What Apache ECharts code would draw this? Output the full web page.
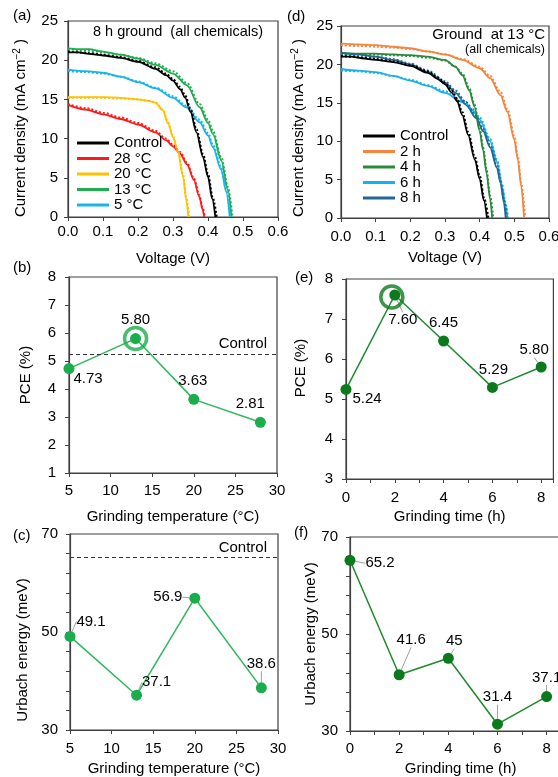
<!DOCTYPE html>
<html><head><meta charset="utf-8">
<script src="https://cdn.jsdelivr.net/npm/echarts@6/dist/echarts.min.js"></script>
<style>html,body{margin:0;padding:0;background:#fff}#c{width:558px;height:777px}</style>
</head><body><div id="c"></div>
<script>
// ---------- DATA ----------
// Panel (a): J-V curves, [voltage V, current density mA cm-2]
const ctrlSolid  = [[0,21.0],[0.03,21.0],[0.06,20.8],[0.1,20.6],[0.15,20.3],[0.2,19.8],[0.25,18.9],[0.28,18.1],[0.3,17.4],[0.32,16.3],[0.335,15.2],[0.35,13.4],[0.367,10.8],[0.386,7.6],[0.4,5.1],[0.412,2.3],[0.421,0]];
const ctrlDotted = [[0,21.1],[0.03,21.0],[0.06,20.9],[0.1,20.7],[0.15,20.4],[0.2,19.9],[0.25,19.1],[0.28,18.3],[0.3,17.6],[0.32,16.6],[0.335,15.5],[0.35,13.8],[0.367,11.2],[0.386,8.0],[0.4,5.5],[0.414,2.4],[0.425,0]];
const t28Solid   = [[0,14.3],[0.05,13.7],[0.1,13.1],[0.15,12.5],[0.2,11.8],[0.25,10.8],[0.28,9.8],[0.3,9.0],[0.32,8.1],[0.34,6.7],[0.36,4.7],[0.375,2.6],[0.385,0.9],[0.389,0]];
const t28Dotted  = [[0,14.4],[0.05,13.9],[0.1,13.3],[0.15,12.7],[0.2,12.0],[0.25,11.0],[0.28,10.0],[0.3,9.2],[0.32,8.3],[0.34,6.9],[0.36,4.9],[0.375,2.8],[0.385,1.1],[0.391,0]];
const t20Solid   = [[0,15.3],[0.05,15.3],[0.1,15.3],[0.15,15.2],[0.2,15.0],[0.23,14.8],[0.25,14.6],[0.271,13.6],[0.286,11.9],[0.3,10.2],[0.314,8.3],[0.329,5.1],[0.338,2.1],[0.344,0]];
const t20Dotted  = [[0,15.2],[0.05,15.2],[0.1,15.2],[0.15,15.1],[0.2,15.0],[0.23,14.8],[0.25,14.6],[0.271,13.7],[0.286,12.1],[0.3,10.4],[0.314,8.5],[0.329,5.4],[0.338,2.4],[0.346,0]];
const t13Solid   = [[0,21.5],[0.03,21.4],[0.06,21.4],[0.1,21.1],[0.15,20.7],[0.2,20.2],[0.25,19.4],[0.3,18.3],[0.34,16.8],[0.376,14.0],[0.4,12.0],[0.414,10.6],[0.438,7.2],[0.457,3.4],[0.467,0]];
const t13Dotted  = [[0,21.4],[0.03,21.3],[0.06,21.2],[0.1,21.0],[0.15,20.7],[0.2,20.3],[0.25,19.6],[0.3,18.6],[0.34,17.1],[0.376,14.4],[0.4,12.4],[0.414,11.0],[0.438,7.6],[0.457,3.8],[0.47,0]];
const t5Solid    = [[0,18.8],[0.05,18.6],[0.1,18.4],[0.15,17.9],[0.2,17.2],[0.25,16.4],[0.3,15.2],[0.338,14.0],[0.376,12.1],[0.4,10.4],[0.414,8.9],[0.438,6.0],[0.452,3.2],[0.462,0]];
const t5Dotted   = [[0,18.6],[0.05,18.5],[0.1,18.3],[0.15,17.9],[0.2,17.3],[0.25,16.5],[0.3,15.4],[0.338,14.2],[0.376,12.4],[0.4,10.7],[0.414,9.2],[0.438,6.3],[0.452,3.5],[0.465,0]];
// Panel (d): J-V curves for grinding time at 13 C
const h2Solid  = [[0,22.7],[0.05,22.6],[0.1,22.5],[0.15,22.3],[0.2,22.1],[0.25,21.7],[0.3,21.3],[0.35,20.6],[0.4,19.5],[0.43,18.2],[0.46,16.0],[0.48,13.8],[0.5,10.2],[0.51,7.6],[0.52,4.1],[0.528,0]];
const h2Dotted = [[0,22.5],[0.05,22.4],[0.1,22.3],[0.15,22.2],[0.2,22.0],[0.25,21.7],[0.3,21.3],[0.35,20.7],[0.4,19.7],[0.43,18.5],[0.46,16.4],[0.48,14.2],[0.5,10.7],[0.51,8.0],[0.52,4.5],[0.531,0]];
const h4Solid  = [[0,21.5],[0.05,21.4],[0.1,21.4],[0.15,21.3],[0.2,21.2],[0.25,21.0],[0.3,20.6],[0.33,19.7],[0.35,18.6],[0.37,16.6],[0.385,14.5],[0.4,11.3],[0.41,8.8],[0.42,5.8],[0.43,2.5],[0.436,0]];
const h4Dotted = [[0,21.3],[0.05,21.3],[0.1,21.3],[0.15,21.2],[0.2,21.1],[0.25,20.9],[0.3,20.5],[0.33,19.7],[0.35,18.8],[0.37,16.9],[0.385,14.8],[0.4,11.7],[0.41,9.2],[0.42,6.2],[0.43,2.9],[0.439,0]];
const h6Solid  = [[0,19.4],[0.05,19.2],[0.1,19.0],[0.15,18.5],[0.2,17.9],[0.25,17.2],[0.3,16.3],[0.35,15.1],[0.38,14.0],[0.4,12.8],[0.43,10.0],[0.45,7.3],[0.465,4.0],[0.475,1.5],[0.48,0]];
const h6Dotted = [[0,19.2],[0.05,19.1],[0.1,18.9],[0.15,18.5],[0.2,18.0],[0.25,17.3],[0.3,16.5],[0.35,15.3],[0.38,14.2],[0.4,13.1],[0.43,10.3],[0.45,7.6],[0.465,4.3],[0.475,1.8],[0.482,0]];
const h8Solid  = [[0,21.5],[0.05,21.3],[0.1,21.0],[0.15,20.6],[0.2,20.0],[0.25,19.0],[0.3,17.6],[0.33,16.3],[0.36,14.8],[0.39,13.0],[0.41,11.3],[0.43,9.2],[0.45,6.5],[0.46,4.6],[0.47,2.0],[0.475,0]];
const h8Dotted = [[0,21.3],[0.05,21.2],[0.1,21.0],[0.15,20.7],[0.2,20.1],[0.25,19.2],[0.3,17.8],[0.33,16.6],[0.36,15.1],[0.39,13.3],[0.41,11.6],[0.43,9.5],[0.45,6.8],[0.46,4.9],[0.47,2.3],[0.478,0]];
// Panels (b),(c): grinding temperature
const tempC      = [5, 13, 20, 28];
const pceTemp    = [4.73, 5.80, 3.63, 2.81];
const urbachTemp = [49.1, 37.1, 56.9, 38.6];
// Panels (e),(f): grinding time
const timeH      = [0, 2, 4, 6, 8];
const pceTime    = [5.24, 7.60, 6.45, 5.29, 5.80];
const urbachTime = [65.2, 41.6, 45, 31.4, 37.1];
const controlPCE = 5.24;
const controlUrbach = 65.2;
const bestTempIdx = 1, bestTimeIdx = 1;

// ---------- STYLE ----------
const FONT = '"Liberation Sans", Arial, Helvetica, sans-serif';
const FS = 15;
const AX = '#404040';
const GREEN = '#1aad4c', GREEN_L = '#2fb75a';
const DKGREEN = '#0b7a1c', DKGREEN_L = '#1f8a2c';
const C = {ctrl:'#000000', t28:'#ff1a1a', t20:'#ffc000', t13:'#1fae4f', t5:'#1ab4ec',
           h2:'#f5843e', h4:'#2a8a3a', h6:'#17b0ea', h8:'#22678f'};
const offB = [[19,10],[0,-19],[-1,-19],[-10,-18]];
const offE = [[21,9],[8,25],[0,-18],[1,-18],[-7,-17]];
const offC = [[21,-15],[20,-13],[-27,-1],[0,-24]];
const offF = [[30,3],[12,-35],[6,-17],[0,-27],[0,-19]];
const leadE = [false,true,false,false,true];

const grids = [
  {left:68,  top:21,  width:210,   height:196}, // a
  {left:341, top:26,  width:208,   height:192}, // d
  {left:69,  top:277, width:208,   height:196}, // b
  {left:346, top:279, width:207.4, height:200}, // e
  {left:70,  top:534, width:208,   height:196}, // c
  {left:350, top:537, width:221.2, height:194}  // f
].map(g => Object.assign({show:true, borderColor:AX, borderWidth:1.2, backgroundColor:'transparent', containLabel:false, outerBoundsMode:'none'}, g));

function axis(gi, o) {
  return {
    type:'value', gridIndex:gi, min:o.min, max:o.max, interval:o.interval,
    name:o.name, nameLocation:'middle', nameGap:o.nameGap, nameMoveOverlap:false,
    nameTextStyle:Object.assign({fontSize:FS, color:'#000', fontFamily:FONT}, o.nts||{}),
    axisLine:{show:true, onZero:false, lineStyle:{color:AX, width:1.2}},
    axisTick:{show:true, length:4, inside:false, lineStyle:{color:AX, width:1}},
    minorTick:{show:!!o.minor, splitNumber:o.minor||5, length:4, lineStyle:{color:AX, width:1}},
    splitLine:{show:false}, minorSplitLine:{show:false},
    axisLabel:{fontSize:FS, color:'#000', fontFamily:FONT, margin:o.margin, formatter:o.fmt, hideOverlap:false}
  };
}
const f1 = v => v.toFixed(1);
const even = v => (Math.abs(v % 2) < 1e-9 ? String(v) : '');
const xAxes = [
  axis(0,{min:0,max:0.6,interval:0.1,fmt:f1,name:'Voltage (V)',nameGap:34,margin:7}),
  axis(1,{min:0,max:0.6,interval:0.1,fmt:f1,name:'Voltage (V)',nameGap:32,margin:11}),
  axis(2,{min:5,max:30,interval:5,name:'Grinding temperature (°C)',nameGap:36,margin:10}),
  axis(3,{min:0,max:8.5,interval:2,minor:2,fmt:even,name:'Grinding time (h)',nameGap:30,margin:11}),
  axis(4,{min:5,max:30,interval:5,name:'Grinding temperature (°C)',nameGap:31,margin:11}),
  axis(5,{min:0,max:9,interval:2,minor:2,fmt:even,name:'Grinding time (h)',nameGap:30,margin:10})
];
const jName = 'Current density (mA cm{sup|−2} )';
const jRich = {rich:{sup:{fontSize:10, verticalAlign:'top', lineHeight:17, fontFamily:FONT, color:'#000'}}, lineHeight:17};
const yAxes = [
  axis(0,{min:0,max:25,interval:5,name:jName,nameGap:39,margin:10,nts:Object.assign({padding:[0,18,0,0]},jRich)}),
  axis(1,{min:0,max:25,interval:5,name:jName,nameGap:34,margin:8,nts:Object.assign({padding:[0,12,0,0]},jRich)}),
  axis(2,{min:1,max:8,interval:1,name:'PCE (%)',nameGap:36,margin:13}),
  axis(3,{min:3,max:8,interval:1,name:'PCE (%)',nameGap:38,margin:13,nts:{padding:[0,0,0,22]}}),
  axis(4,{min:30,max:70,interval:20,minor:5,name:'Urbach energy (meV)',nameGap:40,margin:12,nts:{padding:[0,36,0,0]}}),
  axis(5,{min:30,max:70,interval:20,minor:5,name:'Urbach energy (meV)',nameGap:32,margin:12})
];

function jv(name, data, color, gi, dotted) {
  return {type:'line', name, xAxisIndex:gi, yAxisIndex:gi, data, symbol:'none', showSymbol:false,
    smooth:0.3, smoothMonotone:'x', silent:true,
    lineStyle:{color, width:dotted?2:1.8, type:dotted?[2,2]:'solid'}, itemStyle:{color}, z:dotted?3:2};
}
function pts(gi, xs, ys, fmt, offs, leads, dot, lineCol, best, ringOff) {
  const s = [{
    type:'line', name:'pts'+gi, xAxisIndex:gi, yAxisIndex:gi, silent:true,
    data: xs.map((x,i) => ({value:[x, ys[i]], labelLine:{show:!!(leads && leads[i])}})),
    symbol:'circle', symbolSize:11, showSymbol:true,
    lineStyle:{color:lineCol, width:1.5}, itemStyle:{color:dot},
    label:{show:true, position:'inside', formatter:p => fmt(ys[p.dataIndex]), fontSize:FS, color:'#000', fontFamily:FONT, textBorderWidth:0},
    labelLayout: p => ({dx:offs[p.dataIndex][0], dy:offs[p.dataIndex][1]}),
    labelLine:{show:false, lineStyle:{color:'#a0a0a0', width:1}, length2:0},
    z:4
  }];
  if (best != null) s.push({
    type:'scatter', name:'ring'+gi, xAxisIndex:gi, yAxisIndex:gi, silent:true,
    data:[[xs[best], ys[best]]], symbol:'circle', symbolSize:22, symbolOffset:ringOff||[0,0],
    itemStyle:{color:'rgba(0,0,0,0)', borderColor:dot, borderWidth:3.5}, z:5
  });
  return s;
}
function ctrlLine(gi, v) {
  return {type:'line', name:'ctrl'+gi, xAxisIndex:gi, yAxisIndex:gi, data:[], silent:true,
    markLine:{silent:true, symbol:'none', animation:false, label:{show:false},
      lineStyle:{type:[4,3], color:'#333', width:1.2}, data:[{yAxis:v}]}};
}

const series = [
  jv('28 °C', t28Solid, C.t28, 0), jv('28r', t28Dotted, C.t28, 0, true),
  jv('20 °C', t20Solid, C.t20, 0), jv('20r', t20Dotted, C.t20, 0, true),
  jv('5 °C', t5Solid, C.t5, 0),    jv('5r', t5Dotted, C.t5, 0, true),
  jv('13 °C', t13Solid, C.t13, 0), jv('13r', t13Dotted, C.t13, 0, true),
  jv('Control', ctrlSolid, C.ctrl, 0), jv('ctrlr', ctrlDotted, C.ctrl, 0, true),
  jv('2 h', h2Solid, C.h2, 1), jv('2r', h2Dotted, C.h2, 1, true),
  jv('6 h', h6Solid, C.h6, 1), jv('6r', h6Dotted, C.h6, 1, true),
  jv('4 h', h4Solid, C.h4, 1), jv('4r', h4Dotted, C.h4, 1, true),
  jv('8 h', h8Solid, C.h8, 1), jv('8r', h8Dotted, C.h8, 1, true),
  jv('Control', ctrlSolid, C.ctrl, 1), jv('ctrlr2', ctrlDotted, C.ctrl, 1, true),
  ctrlLine(2, controlPCE), ctrlLine(4, controlUrbach),
  ...pts(2, tempC, pceTemp, v => v.toFixed(2), offB, null, GREEN, GREEN_L, bestTempIdx),
  ...pts(3, timeH, pceTime, v => v.toFixed(2), offE, leadE, DKGREEN, DKGREEN_L, bestTimeIdx, [-3,2]),
  ...pts(4, tempC, urbachTemp, v => String(v), offC, [true,true,true,true], GREEN, GREEN_L, null),
  ...pts(5, timeH, urbachTime, v => String(v), offF, [true,true,true,true,true], DKGREEN, DKGREEN_L, null)
];

const legendBase = {orient:'vertical', itemWidth:32, itemHeight:3, itemGap:0.5, icon:'rect', selectedMode:false,
  textStyle:{fontSize:FS, color:'#000', fontFamily:FONT, lineHeight:15}, padding:0};
const legends = [
  Object.assign({left:77, top:135.5, data:['Control','28 °C','20 °C','13 °C','5 °C']}, legendBase),
  Object.assign({left:363, top:128.5, data:['Control','2 h','4 h','6 h','8 h']}, legendBase)
];

function txt(x, y, text, size, align) {
  return {type:'text', x, y, silent:true, style:{text, font:(size||FS)+'px '+FONT, fill:'#000', textAlign:align||'left', textVerticalAlign:'middle'}};
}
const graphics = [
  txt(13,16,'(a)'), txt(287,17,'(d)'), txt(13,268,'(b)'), txt(295,278,'(e)'), txt(13,536,'(c)'), txt(294,533,'(f)'),
  txt(178,32,'8 h ground  (all chemicals)',14.5,'center'),
  txt(545,35,'Ground  at 13 °C',15,'right'),
  txt(545,50,'(all chemicals)',12.5,'right'),
  txt(267,344,'Control',15,'right'),
  txt(267,548,'Control',15,'right')
];

const chart = echarts.init(document.getElementById('c'), null, {renderer:'canvas', width:558, height:777});
chart.setOption({
  animation:false, backgroundColor:'#fff',
  textStyle:{fontFamily:FONT},
  grid:grids, xAxis:xAxes, yAxis:yAxes, legend:legends, series, graphic:graphics
});
</script></body></html>
